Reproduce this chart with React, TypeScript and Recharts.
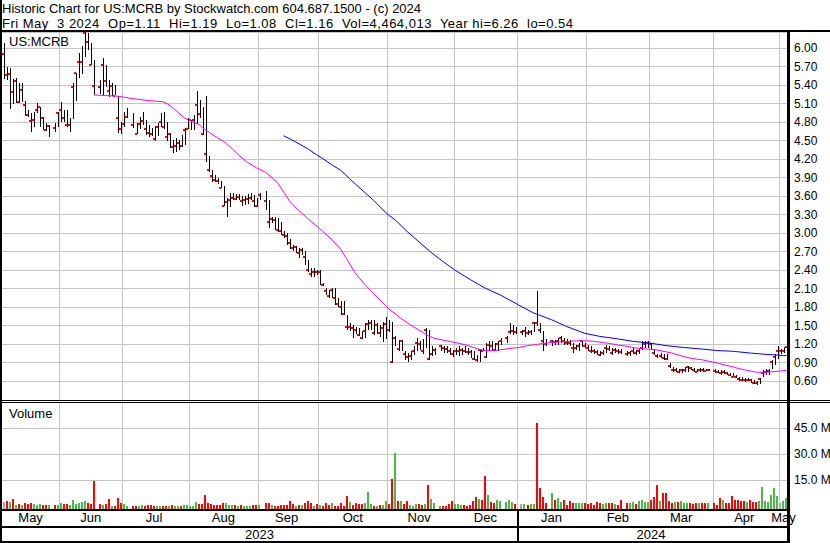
import React from 'react';
import { ComposedChart, Bar, Line, XAxis, YAxis, CartesianGrid } from 'recharts';

const TITLE = 'Historic Chart for US:MCRB by Stockwatch.com 604.687.1500 - (c) 2024';
const SUBTITLE = 'Fri May  3 2024  Op=1.11  Hi=1.19  Lo=1.08  Cl=1.16  Vol=4,464,013  Year hi=6.26  lo=0.54';
const SYMBOL = 'US:MCRB';
const VOLUME_TITLE = 'Volume';

// weekday index of the first plotted weekday (holidays are null)
const FIRST_DAY = 2;

const HIGH: (number | null)[] = [
  // May 2023
  6.08, 5.70, 5.67, 5.50, 5.51, 5.43, 5.43, 5.15, 5.00, 4.95, 4.97, 5.11, 5.05, 4.89, 4.78, 4.76, null, 4.78, 4.97,
  // Jun
  5.13, 5.00, 5.00, 4.87, 5.43, 5.59, 5.92, 6.03, 6.26, 6.24, 6.08, 5.81, null, 5.49, 5.84, 5.73, 5.49, 5.43, 5.40, 5.22, 4.81, 4.97,
  // Jul
  5.03, null, 4.95, 4.78, 4.89, 4.97, 4.84, 4.76, 4.70, 4.73, 4.78, 4.95, 4.97, 4.81, 4.62, 4.51, 4.54, 4.51, 4.59, 4.70, 4.86,
  // Aug
  4.84, 4.92, 5.30, 5.16, 5.05, 5.23, 4.25, 4.03, 3.95, 3.89, 3.84, 3.76, 3.57, 3.65, 3.65, 3.63, 3.63, 3.60, 3.60, 3.63, 3.65, 3.62, 3.57,
  // Sep
  3.65, null, 3.68, 3.54, 3.27, 3.27, 3.25, 3.19, 3.03, 3.00, 2.90, 2.81, 2.79, 2.76, 2.76, 2.71, 2.57, 2.44, 2.44, 2.41, 2.41,
  // Oct
  2.19, 2.11, 2.08, 2.11, 2.11, 1.95, 1.90, 1.90, 1.68, 1.54, 1.52, 1.49, 1.46, 1.41, 1.54, 1.60, 1.60, 1.60, 1.54, 1.52, 1.57, 1.65,
  // Nov
  1.60, 1.57, 1.33, 1.27, 1.27, 1.09, 1.06, 1.09, 1.17, 1.30, 1.25, 1.28, 1.46, 1.44, 1.17, 1.14, null, 1.19, 1.18, 1.17, 1.14, 1.11,
  // Dec
  1.14, 1.17, 1.14, 1.17, 1.14, 1.11, 1.09, 1.03, 1.11, 1.14, 1.22, 1.25, 1.25, 1.22, 1.25, 1.30, null, 1.33, 1.54, 1.52, 1.49,
  // Jan 2024
  null, 1.44, 1.49, 1.44, 1.44, 1.57, 2.06, 1.54, 1.41, 1.28, null, 1.27, 1.27, 1.30, 1.33, 1.30, 1.28, 1.27, 1.22, 1.19, 1.22, 1.26, 1.22,
  // Feb
  1.19, 1.17, 1.13, 1.11, 1.09, 1.11, 1.19, 1.17, 1.14, 1.14, 1.13, 1.13, null, 1.09, 1.10, 1.14, 1.11, 1.13, 1.25, 1.25, 1.25,
  // Mar
  1.23, 1.12, 1.05, 1.06, 1.05, 1.05, 0.90, 0.84, 0.82, 0.80, 0.81, 0.84, 0.85, 0.84, 0.82, 0.80, 0.82, 0.82, 0.80, 0.80, null,
  // Apr
  0.80, 0.79, 0.79, 0.79, 0.76, 0.735, 0.735, 0.71, 0.68, 0.67, 0.66, 0.65, 0.64, 0.62, 0.60, 0.66, 0.79, 0.80, 0.81, 0.95, 1.05, 1.18,
  // May
  1.12, 1.16, 1.19,
];

const LOW: (number | null)[] = [
  5.49, 5.49, 5.00, 5.10, 5.11, 5.10, 5.13, 4.90, 4.88, 4.65, 4.73, 4.95, 4.73, 4.68, 4.65, 4.57, null, 4.63, 4.73,
  4.81, 4.81, 4.73, 4.65, 4.84, 5.13, 5.51, 5.57, 5.85, 5.97, 5.73, 5.24, null, 5.27, 5.24, 5.38, 5.22, 5.22, 5.23, 4.62, 4.62, 4.73,
  4.87, null, 4.70, 4.60, 4.70, 4.76, 4.60, 4.57, 4.57, 4.49, 4.57, 4.73, 4.70, 4.51, 4.38, 4.30, 4.31, 4.35, 4.40, 4.43, 4.68,
  4.68, 4.68, 4.76, 4.87, 4.60, 4.16, 3.99, 3.84, 3.84, 3.79, 3.73, 3.43, 3.26, 3.43, 3.54, 3.54, 3.54, 3.43, 3.46, 3.46, 3.54, 3.43, 3.43,
  3.54, null, 3.38, 3.08, 3.17, 3.06, 3.03, 2.98, 2.92, 2.81, 2.73, 2.71, 2.68, 2.60, 2.65, 2.49, 2.38, 2.30, 2.30, 2.33, 2.17,
  2.14, 2.00, 1.95, 1.95, 1.84, 1.81, 1.68, 1.68, 1.44, 1.41, 1.31, 1.38, 1.33, 1.28, 1.30, 1.44, 1.44, 1.36, 1.36, 1.33, 1.25, 1.30,
  1.40, 0.90, 1.17, 1.09, 1.09, 0.95, 0.92, 0.95, 1.03, 1.09, 1.11, 1.03, 1.14, 0.95, 1.00, 1.03, null, 1.09, 1.07, 1.06, 1.03, 1.00,
  1.03, 1.00, 1.02, 1.06, 1.03, 0.98, 0.95, 0.92, 0.92, 1.09, 0.98, 1.09, 1.11, 1.11, 1.09, 1.19, null, 1.22, 1.36, 1.36, 1.38,
  null, 1.36, 1.33, 1.36, 1.36, 1.40, 1.49, 1.38, 1.09, 1.17, null, 1.17, 1.19, 1.19, 1.22, 1.19, 1.19, 1.17, 1.06, 1.11, 1.09, 1.17, 1.14,
  1.09, 1.06, 1.05, 1.03, 1.01, 1.03, 1.06, 1.09, 1.03, 1.06, 1.05, 1.05, null, 1.01, 1.02, 1.05, 1.03, 1.05, 1.11, 1.14, 1.14,
  1.11, 1.03, 0.98, 0.98, 0.95, 0.95, 0.82, 0.76, 0.75, 0.74, 0.75, 0.76, 0.76, 0.79, 0.76, 0.75, 0.76, 0.76, 0.76, 0.77, null,
  0.74, 0.74, 0.71, 0.725, 0.71, 0.68, 0.67, 0.655, 0.62, 0.61, 0.60, 0.60, 0.58, 0.56, 0.54, 0.57, 0.68, 0.71, 0.72, 0.80, 0.87, 0.97,
  1.04, 1.06, 1.08,
];

const CLOSE: (number | null)[] = [
  5.90, 5.56, 5.58, 5.29, 5.47, 5.12, 5.32, 5.08, 4.92, 4.82, 4.83, 5.00, 5.04, 4.86, 4.68, 4.73, null, 4.70, 4.95,
  5.00, 4.87, 4.75, 4.76, 5.37, 5.59, 5.77, 5.78, 6.24, 6.10, 5.73, 5.38, null, 5.37, 5.72, 5.46, 5.30, 5.39, 5.23, 4.87, 4.69, 4.77,
  4.88, null, 4.76, 4.61, 4.77, 4.82, 4.69, 4.62, 4.61, 4.52, 4.72, 4.81, 4.72, 4.56, 4.60, 4.40, 4.41, 4.47, 4.42, 4.68, 4.69,
  4.83, 4.84, 5.07, 4.94, 4.60, 4.29, 4.03, 3.92, 3.87, 3.84, 3.74, 3.45, 3.51, 3.54, 3.57, 3.56, 3.58, 3.53, 3.54, 3.56, 3.57, 3.52, 3.45,
  3.62, null, 3.52, 3.19, 3.23, 3.22, 3.06, 3.03, 2.97, 2.96, 2.84, 2.76, 2.77, 2.68, 2.73, 2.61, 2.41, 2.34, 2.38, 2.37, 2.38,
  2.16, 2.06, 1.99, 2.08, 1.96, 1.85, 1.81, 1.69, 1.48, 1.49, 1.46, 1.44, 1.35, 1.30, 1.42, 1.53, 1.55, 1.38, 1.51, 1.38, 1.46, 1.53,
  1.44, 0.92, 1.30, 1.13, 1.25, 1.05, 1.00, 1.02, 1.09, 1.22, 1.20, 1.09, 1.44, 0.97, 1.05, 1.11, null, 1.17, 1.14, 1.12, 1.09, 1.05,
  1.09, 1.10, 1.11, 1.10, 1.08, 1.07, 0.97, 0.95, 1.11, 1.10, 0.99, 1.19, 1.18, 1.11, 1.21, 1.26, null, 1.30, 1.40, 1.41, 1.40,
  null, 1.40, 1.41, 1.39, 1.40, 1.55, 1.54, 1.43, 1.25, 1.20, null, 1.25, 1.24, 1.26, 1.30, 1.25, 1.23, 1.22, 1.14, 1.15, 1.17, 1.25, 1.17,
  1.14, 1.10, 1.09, 1.07, 1.03, 1.06, 1.14, 1.13, 1.06, 1.11, 1.09, 1.08, null, 1.04, 1.06, 1.10, 1.06, 1.09, 1.14, 1.21, 1.22,
  1.20, 1.06, 1.01, 1.02, 0.98, 0.97, 0.85, 0.78, 0.79, 0.76, 0.78, 0.79, 0.83, 0.82, 0.78, 0.76, 0.79, 0.78, 0.77, 0.78, null,
  0.77, 0.76, 0.73, 0.75, 0.73, 0.71, 0.68, 0.67, 0.64, 0.63, 0.62, 0.63, 0.62, 0.58, 0.57, 0.64, 0.74, 0.76, 0.77, 0.91, 0.99, 1.09,
  1.09, 1.10, 1.16,
];

// volume in millions of shares
const VOLUME: (number | null)[] = [
  2.5, 2.8, 2.2, 4.0, 0.4, 1.0, 0.5, 1.5, 1.1, 1.5, 0.9, 0.5, 0.9, 0.3, 0.5, 0.5, null, 0.5, 0.5,
  1.5, 1.1, 0.9, 0.5, 3.4, 0.9, 1.5, 2.2, 2.8, 1.5, 0.9, 14.6, null, 0.9, 0.5, 0.9, 4.0, 0.2, 0.1, 4.8, 1.5, 0.9,
  0.2, null, 0.2, 0.2, 0.1, 0.5, 0.2, 0.5, 0.5, 0.2, 0.2, 0.2, 0.2, 0.2, 0.2, 0.5, 0.2, 0.2, 0.2, 0.3, 0.5,
  0.2, 0.2, 2.5, 0.9, 1.1, 6.3, 1.9, 1.1, 0.5, 0.5, 0.3, 1.5, 1.5, 0.5, 0.5, 0.5, 0.2, 0.5, 0.2, 0.1, 0.1, 0.5, 0.5,
  0.3, null, 1.5, 1.5, 0.5, 0.2, 0.2, 0.5, 0.5, 0.5, 2.8, 0.9, 0.2, 0.5, 0.5, 1.5, 2.8, 1.9, 0.2, 0.9, 0.5,
  0.2, 1.9, 0.5, 1.5, 0.2, 0.2, 1.9, 0.2, 5.7, 2.2, 0.5, 1.5, 1.1, 1.1, 1.5, 8.2, 1.1, 0.1, 0.2, 0.5, 0.5, 2.8,
  1.0, 15.6, 30.8, 2.8, 2.8, 0.9, 2.8, 0.5, 0.2, 0.9, 0.9, 0.5, 1.1, 12.1, 4.0, 1.9, null, 0.2, 0.2, 0.2, 1.1, 2.8,
  0.9, 0.9, 0.5, 0.5, 0.2, 0.5, 2.8, 5.0, 4.0, 3.4, 17.4, 6.3, 2.5, 1.5, 3.4, 2.8, null, 2.5, 3.4, 2.5, 0.9,
  null, 0.9, 0.9, 0.5, 0.9, 0.9, 48.2, 10.6, 5.0, 1.5, null, 7.3, 3.4, 4.4, 2.3, 3.4, 0.5, 2.8, 1.5, 1.9, 1.5, 1.9, 1.5,
  0.9, 1.5, 0.5, 2.2, 1.5, 0.9, 1.5, 1.5, 1.5, 1.1, 0.5, 3.4, null, 1.5, 1.9, 2.2, 1.1, 2.8, 3.4, 2.5, 2.5,
  3.4, 5.0, 12.1, 3.1, 7.6, 7.3, 2.8, 1.5, 2.1, 2.1, 2.8, 1.5, 1.5, 1.5, 1.1, 1.5, 1.5, 1.5, 1.9, 1.5, null,
  1.9, 0.5, 4.8, 3.4, 1.9, 1.9, 5.7, 3.4, 3.4, 2.8, 2.8, 2.1, 3.4, 2.5, 2.5, 2.8, 11.1, 2.8, 2.5, 6.3, 10.2, 5.7,
  1.5, 2.8, 4.46,
];

// moving averages: [weekday index, value]
const MA_SHORT: [number, number][] = [
  [32, 5.24], [36, 5.23], [40, 5.22], [45, 5.18], [50, 5.15], [55, 5.13], [57, 5.08], [59, 5.0], [62, 4.87], [64, 4.82],
  [67, 4.76], [68, 4.71], [72, 4.58], [75, 4.49], [78, 4.37], [80, 4.27], [83, 4.15], [86, 4.06], [89, 3.99], [93, 3.82],
  [97, 3.52], [100, 3.37], [103, 3.24], [108, 3.03], [111, 2.9], [114, 2.74], [117, 2.5], [119, 2.34], [122, 2.17],
  [125, 2.02], [128, 1.87], [130, 1.77], [132, 1.7], [134, 1.62], [137, 1.52], [140, 1.43], [143, 1.34], [145, 1.3],
  [148, 1.27], [151, 1.24], [154, 1.21], [157, 1.17], [160, 1.12], [162, 1.1], [165, 1.1], [168, 1.12], [171, 1.14],
  [173, 1.15], [176, 1.18], [179, 1.2], [182, 1.22], [184, 1.23], [187, 1.24], [190, 1.25], [193, 1.26], [195, 1.26],
  [198, 1.25], [201, 1.23], [204, 1.21], [206, 1.19], [209, 1.17], [212, 1.14], [215, 1.13], [219, 1.11], [222, 1.08],
  [224, 1.06], [226, 1.03], [228, 1.0], [231, 0.97], [234, 0.95], [237, 0.92], [239, 0.9], [242, 0.86], [244, 0.84],
  [246, 0.81], [248, 0.79], [250, 0.77], [252, 0.75], [255, 0.746], [258, 0.76], [262, 0.78],
];

const MA_LONG: [number, number][] = [
  [95, 4.58], [99, 4.48], [103, 4.37], [106, 4.27], [108, 4.21], [111, 4.11], [114, 4.02], [117, 3.88], [119, 3.79],
  [122, 3.66], [125, 3.53], [128, 3.38], [130, 3.29], [132, 3.22], [136, 3.03], [140, 2.86], [144, 2.69], [148, 2.54],
  [152, 2.4], [157, 2.25], [162, 2.11], [167, 2.0], [173, 1.84], [178, 1.71], [184, 1.6], [189, 1.49], [195, 1.38],
  [200, 1.33], [206, 1.29], [211, 1.25], [217, 1.22], [222, 1.18], [228, 1.15], [233, 1.13], [239, 1.1], [244, 1.09],
  [250, 1.06], [255, 1.04], [261, 1.02], [262, 1.02],
];

const MONTH_LABELS = ['May', 'Jun', 'Jul', 'Aug', 'Sep', 'Oct', 'Nov', 'Dec', 'Jan', 'Feb', 'Mar', 'Apr', 'May'];
const MONTH_STARTS = [2, 21, 42, 64, 87, 107, 130, 152, 173, 196, 217, 238, 260];
const YEAR_LABELS = ['2023', '2024'];
const YEAR_STARTS = [2, 173];
const PRICE_TICKS = [0.6, 0.9, 1.2, 1.5, 1.8, 2.1, 2.4, 2.7, 3.0, 3.3, 3.6, 3.9, 4.2, 4.5, 4.8, 5.1, 5.4, 5.7, 6.0];
const PRICE_DOMAIN = [0.3, 6.26];
const VOLUME_TICKS = [15, 30, 45];
const VOLUME_DOMAIN = [-1.8, 59.9];

const LAST_DAY = FIRST_DAY + HIGH.length - 1;

const shortMap = new Map(MA_SHORT);
const longMap = new Map(MA_LONG);
const gridDays = new Set(MONTH_STARTS.slice(1));

const rows = HIGH.map((h, i) => {
  let prev: number | null = null;
  for (let j = i - 1; j >= 0; j--) {
    if (CLOSE[j] != null) { prev = CLOSE[j]; break; }
  }
  const d = FIRST_DAY + i;
  return {
    d,
    high: h,
    low: LOW[i],
    close: CLOSE[i],
    prev,
    vol: VOLUME[i],
    maShort: shortMap.has(d) ? shortMap.get(d)! : null,
    maLong: longMap.has(d) ? longMap.get(d)! : null,
    monthStart: gridDays.has(d),
  };
});

const monthEnds = MONTH_STARTS.map((s, i) => (i + 1 < MONTH_STARTS.length ? MONTH_STARTS[i + 1] : LAST_DAY + 1));
const monthTickDays = MONTH_STARTS.map((s, i) => Math.floor((s + monthEnds[i] - 1) / 2));
const monthTickLabel = new Map(monthTickDays.map((d, i) => [d, MONTH_LABELS[i]]));
const yearEnds = YEAR_STARTS.map((s, i) => (i + 1 < YEAR_STARTS.length ? YEAR_STARTS[i + 1] : LAST_DAY + 1));
const yearTickDays = YEAR_STARTS.map((s, i) => Math.floor((s + yearEnds[i] - 1) / 2));
const yearTickLabel = new Map(yearTickDays.map((d, i) => [d, YEAR_LABELS[i]]));
const yearDividers = YEAR_STARTS.slice(1);

const FONT = '"Liberation Sans", Arial, Helvetica, sans-serif';
const GRID = '#c4c4c4';
const W = 830;

const GridLine = (p: any) => {
  const { x, y, height, payload } = p;
  if (payload == null || !payload.monthStart) return null;
  const top = Math.min(y, y + height);
  const h = Math.abs(height);
  return <rect x={Math.round(x)} y={Math.round(top)} width={1} height={Math.round(h)} fill={GRID} shapeRendering="crispEdges" />;
};

const PriceBar = (p: any) => {
  const { x, y, height, payload } = p;
  if (payload == null || payload.high == null) return null;
  const top = Math.min(y, y + height);
  const h = Math.abs(height);
  const span = payload.high - payload.low;
  const cy = span > 0 ? top + ((payload.high - payload.close) / span) * h : top;
  const left = Math.round(x);
  return (
    <g shapeRendering="crispEdges">
      <rect x={left + 2} y={Math.round(top)} width={1} height={Math.max(1, Math.round(h))} fill="#000" />
      <rect x={left} y={Math.round(cy) - 1} width={2} height={2} fill="#ff0000" />
    </g>
  );
};

const VolumeBar = (p: any) => {
  const { x, y, height, payload } = p;
  if (payload == null || payload.vol == null) return null;
  const top = Math.min(y, y + height);
  const h = Math.abs(height);
  let fill = '#a8a8a8';
  if (payload.prev != null && payload.close != null) {
    if (payload.close > payload.prev) fill = '#4cb84c';
    else if (payload.close < payload.prev) fill = '#ff0000';
  }
  return <rect x={Math.floor(x)} y={Math.round(top)} width={2} height={Math.round(h)} fill={fill} shapeRendering="crispEdges" />;
};

const PriceTick = (p: any) => (
  <text x={p.x + 6} y={p.y + 4} fontSize={12} fontFamily={FONT} fill="#000">
    {Number(p.payload.value).toFixed(2)}
  </text>
);

const VolumeTick = (p: any) => (
  <text x={p.x + 6} y={p.y + 4} fontSize={12} fontFamily={FONT} fill="#000">
    {Number(p.payload.value).toFixed(1) + ' M'}
  </text>
);

const MonthTick = (p: any) => (
  <text x={p.x} y={p.y + 13} fontSize={13} fontFamily={FONT} fill="#000" textAnchor="middle">
    {monthTickLabel.get(p.payload.value) ?? ''}
  </text>
);

const YearTick = (p: any) => {
  const v = p.payload.value;
  if (yearDividers.includes(v)) {
    return <rect x={Math.round(p.x - 1.5)} y={p.y - 17} width={2} height={33} fill="#000" shapeRendering="crispEdges" />;
  }
  return (
    <text x={p.x} y={p.y + 13} fontSize={13} fontFamily={FONT} fill="#000" textAnchor="middle">
      {yearTickLabel.get(v) ?? ''}
    </text>
  );
};

const priceRange = (r: any) => (r.high == null ? null : [r.low, r.high]);
const volumeRange = (r: any) => (r.vol == null ? null : [VOLUME_DOMAIN[0], r.vol]);
const priceGridRange = (r: any) => (r.monthStart ? PRICE_DOMAIN : null);
const volumeGridRange = (r: any) => (r.monthStart ? VOLUME_DOMAIN : null);

export default function App() {
  return (
    <div style={{ position: 'absolute', left: 0, top: 0, width: 830, height: 543, background: '#fff', overflow: 'hidden', fontFamily: FONT }}>
      <div style={{ position: 'absolute', left: 0, top: 0 }}>
        <ComposedChart width={W} height={401} data={rows} margin={{ top: 32, right: 0, bottom: 1, left: 2 }}>
          <CartesianGrid horizontal vertical={false} stroke={GRID} shapeRendering="crispEdges" />
          <XAxis dataKey="d" type="category" hide height={0} />
          <XAxis xAxisId="grid" dataKey="d" type="category" hide height={0} />
          <YAxis
            orientation="right"
            type="number"
            domain={PRICE_DOMAIN}
            ticks={PRICE_TICKS}
            allowDataOverflow
            width={42}
            axisLine={false}
            tickLine={false}
            tickSize={0}
            tickMargin={0}
            interval={0}
            tick={<PriceTick />}
          />
          <Bar xAxisId="grid" dataKey={priceGridRange} barSize={3} shape={<GridLine />} isAnimationActive={false} />
          <Bar dataKey={priceRange} barSize={3} shape={<PriceBar />} isAnimationActive={false} />
          <Line dataKey="maShort" stroke="#ff00ff" strokeWidth={1} dot={false} connectNulls isAnimationActive={false} />
          <Line dataKey="maLong" stroke="#0000ff" strokeWidth={1} dot={false} connectNulls isAnimationActive={false} />
        </ComposedChart>
      </div>
      <div style={{ position: 'absolute', left: 0, top: 400 }}>
        <ComposedChart width={W} height={143} data={rows} margin={{ top: 2.5, right: 0, bottom: 1, left: 2 }}>
          <CartesianGrid horizontal vertical={false} stroke={GRID} shapeRendering="crispEdges" xAxisId="m" />
          <XAxis
            xAxisId="m"
            dataKey="d"
            type="category"
            height={17}
            ticks={monthTickDays}
            interval={0}
            axisLine={false}
            tickLine={false}
            tickSize={0}
            tickMargin={0}
            tick={<MonthTick />}
          />
          <XAxis
            xAxisId="yr"
            dataKey="d"
            type="category"
            height={16}
            ticks={[...yearTickDays, ...yearDividers].sort((a, b) => a - b)}
            interval={0}
            axisLine={false}
            tickLine={false}
            tickSize={0}
            tickMargin={0}
            tick={<YearTick />}
          />
          <XAxis xAxisId="zgrid" dataKey="d" type="category" hide height={0} />
          <YAxis
            orientation="right"
            type="number"
            domain={VOLUME_DOMAIN}
            ticks={VOLUME_TICKS}
            allowDataOverflow
            width={42}
            axisLine={false}
            tickLine={false}
            tickSize={0}
            tickMargin={0}
            interval={0}
            tick={<VolumeTick />}
          />
          <Bar xAxisId="zgrid" dataKey={volumeGridRange} barSize={3} shape={<GridLine />} isAnimationActive={false} />
          <Bar xAxisId="m" dataKey={volumeRange} barSize={2} shape={<VolumeBar />} isAnimationActive={false} />
        </ComposedChart>
      </div>
      <svg width={830} height={543} style={{ position: 'absolute', left: 0, top: 0, pointerEvents: 'none' }}>
        <g fontFamily={FONT} fontSize={13} fill="#000">
          <text x={2} y={13} style={{ whiteSpace: 'pre' }}>{TITLE}</text>
          <text x={2} y={28} style={{ whiteSpace: 'pre' }} letterSpacing={0.5}>{SUBTITLE}</text>
          <text x={9} y={46}>{SYMBOL}</text>
          <text x={9} y={418}>{VOLUME_TITLE}</text>
        </g>
        <g fill="#000" shapeRendering="crispEdges">
          <rect x={0} y={0} width={2} height={543} />
          <rect x={0} y={30} width={830} height={2} />
          <rect x={787} y={31} width={3} height={512} />
          <rect x={0} y={400} width={830} height={1} />
          <rect x={0} y={402} width={830} height={1} />
          <rect x={0} y={509} width={790} height={2} />
          <rect x={0} y={526} width={790} height={2} />
          <rect x={0} y={541} width={790} height={2} />
        </g>
      </svg>
    </div>
  );
}
